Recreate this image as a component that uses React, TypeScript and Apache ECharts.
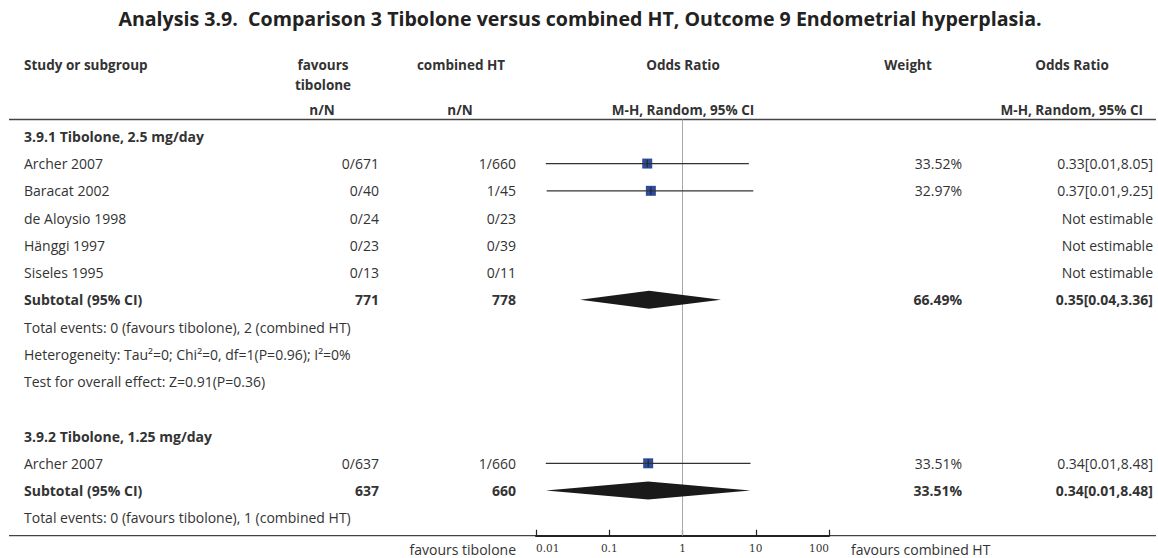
import React, { useEffect, useRef } from "react";
import * as echarts from "echarts";

const FONT = "'Open Sans', 'Noto Sans', sans-serif";
const TEXT = "#333333";

const titleText = "Analysis 3.9.  Comparison 3 Tibolone versus combined HT, Outcome 9 Endometrial hyperplasia.";

const rowLabels = [
  "3.9.1 Tibolone, 2.5 mg/day",
  "Archer 2007",
  "Baracat 2002",
  "de Aloysio 1998",
  "Hänggi 1997",
  "Siseles 1995",
  "Subtotal (95% CI)",
  "Total events: 0 (favours tibolone), 2 (combined HT)",
  "Heterogeneity: Tau²=0; Chi²=0, df=1(P=0.96); I²=0%",
  "Test for overall effect: Z=0.91(P=0.36)",
  "",
  "3.9.2 Tibolone, 1.25 mg/day",
  "Archer 2007",
  "Subtotal (95% CI)",
  "Total events: 0 (favours tibolone), 1 (combined HT)",
];
const tiboloneCounts = ["", "0/671", "0/40", "0/24", "0/23", "0/13", "771", "", "", "", "", "", "0/637", "637", ""];
const combinedCounts = ["", "1/660", "1/45", "0/23", "0/39", "0/11", "778", "", "", "", "", "", "1/660", "660", ""];
const weightLabels = ["", "33.52%", "32.97%", "", "", "", "66.49%", "", "", "", "", "", "33.51%", "33.51%", ""];
const effectLabels = [
  "", "0.33[0.01,8.05]", "0.37[0.01,9.25]", "Not estimable", "Not estimable", "Not estimable",
  "0.35[0.04,3.36]", "", "", "", "", "", "0.34[0.01,8.48]", "0.34[0.01,8.48]", "",
];
const boldRows = [0, 6, 11, 13];

const studyRows = [1, 2, 12];
const studyOR = [0.33, 0.37, 0.34];
const studyLower = [0.0136, 0.014, 0.0136];
const studyUpper = [8.05, 9.25, 8.48];

const subtotalRows = [6, 13];
const subtotalOR = [0.35, 0.34];
const subtotalLower = [0.04, 0.0136];
const subtotalUpper = [3.36, 8.48];

const axisTicks = [0.01, 0.1, 1, 10, 100];

const ROW_MIN = -0.617;
const ROW_MAX = 14.657;

export default function App() {
  const ref = useRef<HTMLDivElement>(null);
  useEffect(() => {
    if (!ref.current) return;
    const chart = echarts.init(ref.current, null, { renderer: "svg" });

    const hdr = (text: string, x: number, y: number, align: string) => ({
      type: "text",
      x,
      y,
      style: {
        text,
        fill: TEXT,
        font: `bold 13.5px ${FONT}`,
        align,
        verticalAlign: "middle",
      },
    });

    const option: any = {
      animation: false,
      grid: { left: 536, width: 293, top: 119.5, height: 416.2 },
      xAxis: {
        type: "log",
        logBase: 10,
        min: 0.01,
        max: 100,
        interval: 1,
        axisLine: { show: true, onZero: false, lineStyle: { color: "#222", width: 2 } },
        axisTick: { show: true, inside: true, length: 6, lineStyle: { color: "#222", width: 1.2 } },
        splitLine: { show: false },
        axisLabel: {
          show: true,
          margin: 7,
          color: "#333",
          fontSize: 10.5,
          fontFamily: "'DejaVu Serif', serif",
          showMinLabel: true,
          showMaxLabel: true,
          alignMinLabel: "left",
          alignMaxLabel: "right",
          formatter: (v: number) => {
            const t = axisTicks.find((a) => Math.abs(Math.log10(a) - Math.log10(v)) < 1e-6);
            return t === undefined ? "" : String(t);
          },
        },
      },
      yAxis: { type: "value", inverse: true, min: ROW_MIN, max: ROW_MAX, show: false },
      graphic: [
        {
          type: "text",
          x: 580,
          y: 18,
          style: { text: titleText, fill: "#222", font: `bold 19.6px ${FONT}`, align: "center", verticalAlign: "middle" },
        },
        hdr("Study or subgroup", 24, 65, "left"),
        hdr("favours", 323, 65, "center"),
        hdr("tibolone", 323, 85, "center"),
        hdr("n/N", 322, 110, "center"),
        hdr("combined HT", 461, 65, "center"),
        hdr("n/N", 460, 110, "center"),
        hdr("Odds Ratio", 683, 65, "center"),
        hdr("M-H, Random, 95% CI", 683, 110, "center"),
        hdr("Weight", 908, 65, "center"),
        hdr("Odds Ratio", 1072, 65, "center"),
        hdr("M-H, Random, 95% CI", 1143, 110, "right"),
        {
          type: "line",
          shape: { x1: 9, y1: 119.5, x2: 1156, y2: 119.5 },
          style: { stroke: "#444", lineWidth: 1.5 },
        },
        {
          type: "line",
          shape: { x1: 9, y1: 535.7, x2: 1156, y2: 535.7 },
          style: { stroke: "#444", lineWidth: 1.2 },
        },
        {
          type: "text",
          x: 516,
          y: 549,
          style: { text: "favours tibolone", fill: TEXT, font: `14px ${FONT}`, align: "right", verticalAlign: "middle" },
        },
        {
          type: "text",
          x: 851,
          y: 549,
          style: { text: "favours combined HT", fill: TEXT, font: `14px ${FONT}`, align: "left", verticalAlign: "middle" },
        },
      ],
      series: [
        {
          type: "line",
          data: [
            [1, ROW_MIN],
            [1, ROW_MAX],
          ],
          symbol: "none",
          silent: true,
          lineStyle: { color: "#a8a8a8", width: 1 },
          z: 1,
        },
        {
          type: "custom",
          coordinateSystem: "cartesian2d",
          data: rowLabels.map((_, i) => [1, i]),
          silent: true,
          renderItem: (params: any, api: any) => {
            const row = api.value(1);
            const y = api.coord([1, row])[1];
            const bold = boldRows.includes(row);
            const font = `${bold ? "bold " : ""}14px ${FONT}`;
            const mk = (text: string, x: number, align: string) => ({
              type: "text",
              x,
              y,
              style: { text, fill: TEXT, font, align, verticalAlign: "middle" },
            });
            return {
              type: "group",
              children: [
                mk(rowLabels[row], 24, "left"),
                mk(tiboloneCounts[row], 379, "right"),
                mk(combinedCounts[row], 516, "right"),
                mk(weightLabels[row], 962, "right"),
                mk(effectLabels[row], 1153, "right"),
              ],
            };
          },
          z: 3,
        },
        {
          type: "custom",
          coordinateSystem: "cartesian2d",
          data: studyRows.map((r, i) => [studyOR[i], r, studyLower[i], studyUpper[i]]),
          encode: { x: 0, y: 1 },
          silent: true,
          renderItem: (params: any, api: any) => {
            const c = api.coord([api.value(0), api.value(1)]);
            const l = api.coord([api.value(2), api.value(1)]);
            const h = api.coord([api.value(3), api.value(1)]);
            return {
              type: "group",
              children: [
                { type: "rect", shape: { x: c[0] - 5, y: c[1] - 5, width: 10, height: 10 }, style: { fill: "#2F4C9C" } },
                { type: "line", shape: { x1: l[0], y1: c[1], x2: h[0], y2: c[1] }, style: { stroke: "#333", lineWidth: 1.2 } },
                { type: "line", shape: { x1: c[0], y1: c[1] - 4, x2: c[0], y2: c[1] + 4 }, style: { stroke: "#222", lineWidth: 1 } },
              ],
            };
          },
          z: 4,
        },
        {
          type: "custom",
          coordinateSystem: "cartesian2d",
          data: subtotalRows.map((r, i) => [subtotalOR[i], r, subtotalLower[i], subtotalUpper[i]]),
          encode: { x: 0, y: 1 },
          silent: true,
          renderItem: (params: any, api: any) => {
            const c = api.coord([api.value(0), api.value(1)]);
            const l = api.coord([api.value(2), api.value(1)]);
            const h = api.coord([api.value(3), api.value(1)]);
            return {
              type: "polygon",
              shape: {
                points: [
                  [l[0], c[1]],
                  [c[0], c[1] - 9],
                  [h[0], c[1]],
                  [c[0], c[1] + 9],
                ],
              },
              style: { fill: "#1a1a1a" },
            };
          },
          z: 2,
        },
      ],
    };
    chart.setOption(option);
    return () => chart.dispose();
  }, []);
  return <div ref={ref} style={{ position: "absolute", left: 0, top: 0, width: 1158, height: 558, background: "#fff" }} />;
}
